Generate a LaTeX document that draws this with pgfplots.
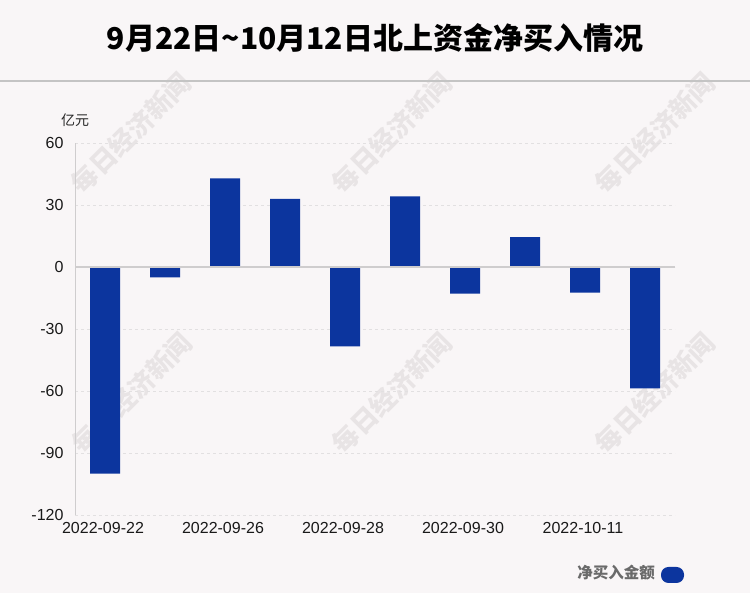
\documentclass[border=0pt]{standalone}
\usepackage{pgfplots}
\pgfplotsset{compat=1.18}
\usepackage{fontspec}
\setmainfont{Liberation Sans}
\newfontfamily\cjk{Noto Sans CJK SC}
\definecolor{bg}{HTML}{F9F6F7}
\definecolor{barblue}{HTML}{0C359E}
\definecolor{sepgray}{HTML}{C4C4C4}
\definecolor{gridgray}{HTML}{E2E0E1}
\definecolor{zerogray}{HTML}{CFCDCE}
\definecolor{wm}{HTML}{E8E4E5}
\definecolor{legtext}{HTML}{6A6A6A}
\begin{document}
\begin{tikzpicture}[x=1pt,y=1pt]
\fill[bg] (0,0) rectangle (750,593);
\useasboundingbox (0,0) rectangle (750,593);
\foreach \px/\py in {131/460,392/460,655/460,132/200,392/200,655/200}
  \node[rotate=45,text=wm,font=\cjk\bfseries\fontsize{26}{26}\selectfont] at (\px,\py) {每日经济新闻};
\node[font=\cjk\bfseries\fontsize{30}{30}\selectfont,inner sep=0pt] at (375,555) {9月22日\textasciitilde 10月12日北上资金净买入情况};
\draw[line width=2pt,sepgray] (0,512) -- (750,512);
\node[font=\cjk\fontsize{14}{14}\selectfont,text=black!85] at (75,473) {亿元};
\node[font=\cjk\bfseries\fontsize{15.5}{15.5}\selectfont,text=legtext] at (616,20) {净买入金额};
\fill[barblue,rounded corners=7.5pt] (661,10) rectangle (684,26);
\begin{axis}[
  at={(75pt,78pt)}, anchor=south west,
  scale only axis, width=600pt, height=372pt,
  xmin=-0.5, xmax=9.5, ymin=-120, ymax=60,
  ytick={-120,-90,-60,-30,0,30,60},
  xtick={0,2,4,6,8},
  xticklabels={2022-09-22,2022-09-26,2022-09-28,2022-09-30,2022-10-11},
  axis line style={draw=none},
  major tick length=0pt,
  ymajorgrids, grid style={gridgray,dashed,line width=0.8pt},
  /pgf/number format/assume math mode=true,
  tick label style={font=\fontsize{16}{16}\selectfont,text=black!90},
  yticklabel style={xshift=-8pt},
  xticklabel style={yshift=-4pt,xshift=-2pt},
  clip=false,
]
\draw[zerogray,line width=0.8pt] (axis cs:-0.5,-120) -- (axis cs:-0.5,60);
\addplot[ybar,bar width=30pt,fill=barblue,draw=none] coordinates {
(0,-100.0) (1,-5.0) (2,42.9) (3,32.9) (4,-38.4) (5,34.2) (6,-12.9) (7,14.5) (8,-12.4) (9,-58.7)
};
\draw[zerogray,line width=1.6pt] (axis cs:-0.5,0) -- (axis cs:9.5,0);
\end{axis}
\end{tikzpicture}
\end{document}
